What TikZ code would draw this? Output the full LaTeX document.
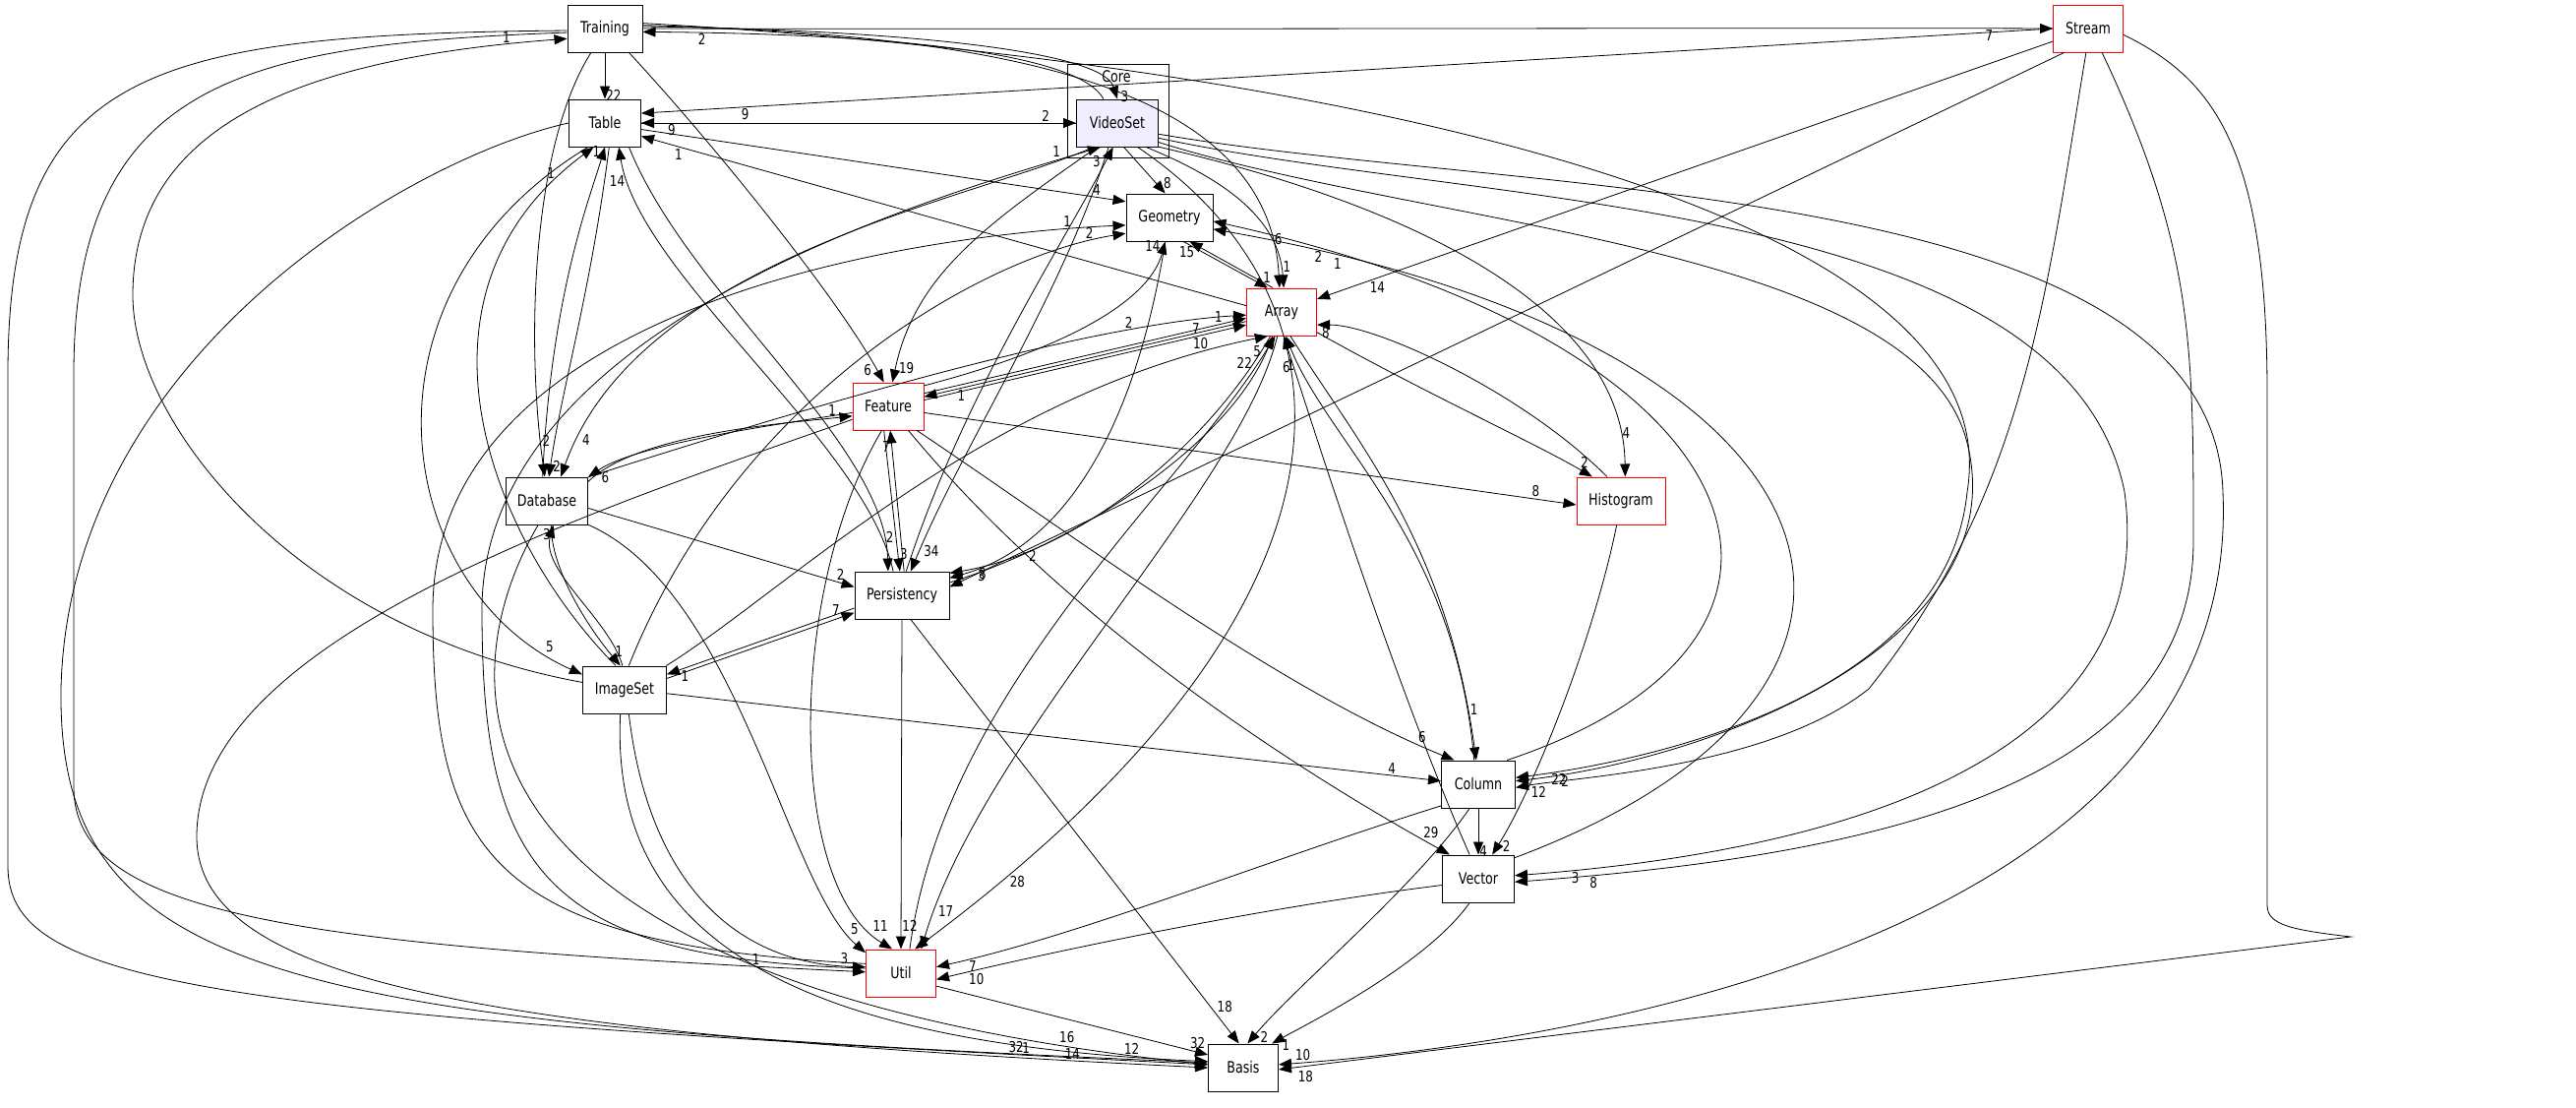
\documentclass[tikz,border=0pt]{standalone}
\usepackage{fontspec}
\usetikzlibrary{arrows.meta}
\newfontfamily\dvs{DejaVu Sans}[FakeStretch=0.79]
\newcommand\gnfont{\dvs\fontsize{16}{18}\selectfont}
\newcommand\glfont{\dvs\fontsize{15}{16}\selectfont}
\definecolor{lav}{RGB}{238,238,255}
\tikzset{
 dnode/.style={draw, line width=1pt, minimum height=48pt, inner sep=0pt, font=\gnfont},
 rnode/.style={dnode, draw=red},
 dep/.style={line width=0.8pt, -{Triangle[length=13pt,width=10pt]}},
 hl/.style={font=\glfont, inner sep=1pt, pos=0.93, auto},
}
\begin{document}
\begin{tikzpicture}[x=1pt,y=-1pt]
\fill[white] (0,0) rectangle (2619,1125);
\useasboundingbox (0,0) rectangle (2619,1125);
% cluster
\node[draw, line width=1pt, minimum width=103pt, minimum height=95pt, inner sep=0pt] (core) at (1136.5,112.5) {};
\node[font=\gnfont, inner sep=0pt] (corelbl) at (1135,78) {Core};
% nodes
\node[dnode, minimum width=76pt] (T) at (615,29) {Training};
\node[dnode, minimum width=73pt] (Tb) at (615,125) {Table};
\node[dnode, minimum width=83pt, fill=lav] (V) at (1136,125) {VideoSet};
\node[dnode, minimum width=88pt] (G) at (1189,221) {Geometry};
\node[rnode, minimum width=71pt] (A) at (1303,317) {Array};
\node[rnode, minimum width=72pt] (F) at (903,413) {Feature};
\node[dnode, minimum width=83pt] (D) at (556,509) {Database};
\node[rnode, minimum width=90pt] (H) at (1648,509) {Histogram};
\node[dnode, minimum width=96pt] (P) at (917,605) {Persistency};
\node[dnode, minimum width=85pt] (I) at (635,701) {ImageSet};
\node[dnode, minimum width=75pt] (C) at (1503,797) {Column};
\node[dnode, minimum width=73pt] (Ve) at (1503,893) {Vector};
\node[rnode, minimum width=71pt] (U) at (916,989) {Util};
\node[dnode, minimum width=71pt] (B) at (1264,1085) {Basis};
\node[rnode, minimum width=71pt] (S) at (2123,29) {Stream};
% Training
\draw[dep] (T.south) -- node[hl](l1){22} (Tb.north);
\draw[dep] (T.183) .. controls (150,35) and (8,70) .. (8,380) -- (8,880) .. controls (8,1000) and (200,1030) .. node[hl](l2){32} (B.175);
\draw[dep] (T.186) .. controls (250,45) and (75,80) .. (75,380) -- (75,800) .. controls (75,930) and (300,960) .. node[hl](l3){1} (U.178);
\draw[dep] (I.170) .. controls (300,640) and (135,430) .. (135,300) .. controls (135,130) and (300,60) .. node[hl](l4){1} (T.195);
\draw[dep] (T.240) .. controls (540,150) and (535,350) .. node[hl](l5){2} (D.95);
\draw[dep] (T.-45) .. controls (720,140) and (850,300) .. node[hl,swap](l6){6} (F.100);
\draw[dep] (T.east) .. controls (1200,30) and (1800,28) .. node[hl,swap](l7){7} (S.west);
\draw[dep] (V.120) .. controls (1100,60) and (950,35) .. node[hl](l8){2} (T.-5);
\draw[dep] (T.3) .. controls (900,30) and (1120,50) .. node[font=\glfont, inner sep=1pt, pos=0.985, right=3pt](l9){3} (V.north);
\draw[dep] (T.5) .. controls (1000,35) and (1290,80) .. node[hl](l10){6} (A.95);
\draw[dep] (T.8) .. controls (1300,60) and (2050,200) .. (2000,500) .. controls (1980,700) and (1700,770) .. node[hl](l11){22} (C.10);
% Stream
\draw[dep] (S.west) -- node[hl](l12){9} (Tb.15);
\draw[dep] (S.200) -- node[hl](l13){14} (A.20);
\draw[dep] (S.225) -- node[hl](l14){2} (P.10);
\draw[dep] (S.-95) .. controls (2080,300) and (2060,500) .. (1900,700) .. controls (1800,780) and (1600,790) .. node[hl](l15){12} (C.-5);
\draw[dep] (S.-60) .. controls (2230,250) and (2230,350) .. (2230,550) .. controls (2230,800) and (1900,870) .. node[hl](l16){8} (Ve.-5);
\draw[dep] (S.-10) .. controls (2250,80) and (2305,150) .. (2305,400) -- (2305,920) .. controls (2305,940) and (2330,945) .. (2390,952) -- node[font=\glfont, inner sep=1pt, pos=0.985, below right=2pt](l17){18} (B.-3);
% VideoSet
\draw[dep] (Tb.east) -- node[hl](l18){2} (V.west);
\draw[dep] (V.west) -- node[hl](l19){9} (Tb.east);
\draw[dep] (V.-75) -- node[hl](l20){8} (G.100);
\draw[dep] (V.-135) .. controls (1000,200) and (650,260) .. node[hl](l21){4} (D.60);
\draw[dep] (V.-130) .. controls (1000,230) and (930,280) .. node[hl](l22){19} (F.80);
\draw[dep] (V.-110) .. controls (1080,300) and (980,450) .. node[hl](l23){34} (P.70);
\draw[dep] (V.-40) .. controls (1240,180) and (1300,220) .. node[hl](l24){1} (A.85);
\draw[dep] (V.-30) .. controls (1400,200) and (1650,300) .. node[hl](l25){4} (H.80);
\draw[dep] (V.-25) .. controls (1450,230) and (1950,250) .. (2000,450) .. controls (2050,650) and (1750,770) .. node[hl](l26){2} (C.5);
\draw[dep] (V.-20) .. controls (1500,210) and (2100,200) .. (2160,500) .. controls (2200,800) and (1800,870) .. node[hl](l27){3} (Ve.5);
\draw[dep] (V.-15) .. controls (1550,200) and (2250,180) .. (2260,500) .. controls (2280,950) and (1600,1060) .. node[font=\glfont, inner sep=1pt, pos=0.985, above right=2pt](l28){10} (B.5);
\draw[dep] (V.-50) .. controls (1380,300) and (1420,600) .. node[hl](l29){28} (U.60);
\draw[dep] (U.172) .. controls (550,975) and (490,880) .. (490,620) .. controls (490,330) and (950,200) .. node[hl](l30){1} (V.-125);
\draw[dep] (P.80) .. controls (980,400) and (1080,250) .. node[hl](l31){3} (V.-100);
% Geometry
\draw[dep] (Tb.-10) -- node[hl](l32){4} (G.160);
\draw[dep] (U.165) .. controls (500,960) and (440,870) .. (440,620) .. controls (440,320) and (900,240) .. node[hl](l33){1} (G.190);
\draw[dep] (I.80) .. controls (750,400) and (1000,260) .. node[hl](l34){2} (G.200);
\draw[dep] (F.30) .. controls (1100,350) and (1170,300) .. node[hl](l35){14} (G.-100);
\draw[dep] (G.-60) -- node[hl](l36){1} (A.120);
\draw[dep] (A.110) -- node[hl](l37){15} (G.-50);
\draw[dep] (G.-100) .. controls (1160,400) and (1100,550) .. node[hl](l38){3} (P.20);
\draw[dep] (C.40) .. controls (1900,650) and (1800,350) .. node[hl](l39){2} (G.-5);
\draw[dep] (Ve.30) .. controls (2000,700) and (1900,350) .. node[hl](l40){1} (G.-15);
% Array
\draw[dep] (A.170) -- node[hl](l41){1} (Tb.-20);
\draw[dep] (F.20) -- node[hl](l42){1} (A.190);
\draw[dep] (A.195) -- node[hl,pos=0.9](l43){1} (F.15);
\draw[dep] (F.10) -- node[hl,pos=0.86](l44){7} (A.200);
\draw[dep] (D.30) .. controls (800,420) and (1100,330) .. node[hl,pos=0.8](l45){2} (A.185);
\draw[dep] (P.15) .. controls (1100,550) and (1250,450) .. node[hl](l46){5} (A.-110);
\draw[dep] (A.-115) .. controls (1230,450) and (1100,560) .. node[hl](l47){8} (P.25);
\draw[dep] (U.70) .. controls (960,700) and (1200,500) .. node[hl](l48){22} (A.-105);
\draw[dep] (A.-100) .. controls (1260,500) and (1000,750) .. node[hl](l49){17} (U.50);
\draw[dep] (C.100) .. controls (1480,550) and (1350,450) .. node[hl](l50){1} (A.-80);
\draw[dep] (A.-70) .. controls (1380,450) and (1470,550) .. node[hl](l51){1} (C.95);
\draw[dep] (Ve.110) .. controls (1420,700) and (1340,450) .. node[hl](l52){6} (A.-85);
\draw[dep] (H.120) .. controls (1550,400) and (1400,330) .. node[hl](l53){8} (A.-20);
\draw[dep] (A.-30) .. controls (1450,400) and (1560,450) .. node[hl](l54){2} (H.140);
\draw[dep] (I.30) .. controls (800,600) and (1000,400) .. node[hl](l55){10} (A.-120);
% Feature
\draw[dep] (F.190) .. controls (800,430) and (650,450) .. node[hl](l56){6} (D.30);
\draw[dep] (D.25) .. controls (650,440) and (800,430) .. node[hl](l57){1} (F.195);
\draw[dep] (F.-100) -- node[hl](l58){3} (P.95);
\draw[dep] (P.85) -- node[hl](l59){7} (F.-85);
\draw[dep] (F.-10) -- node[hl](l60){8} (H.185);
\draw[dep] (F.-40) .. controls (1100,550) and (1300,700) .. node[hl](l61){6} (C.135);
\draw[dep] (F.-50) .. controls (1100,650) and (1350,800) .. node[hl](l62){29} (Ve.140);
\draw[dep] (F.-105) .. controls (800,600) and (800,900) .. node[hl](l63){11} (U.110);
\draw[dep] (F.200) .. controls (600,520) and (200,650) .. (200,850) .. controls (200,1000) and (500,1050) .. node[hl](l64){14} (B.180);
% Database
\draw[dep] (Tb.-80) .. controls (600,300) and (570,400) .. node[hl](l65){2} (D.85);
\draw[dep] (D.-10) -- node[hl](l66){2} (P.170);
\draw[dep] (D.-80) .. controls (560,580) and (600,640) .. node[hl](l67){1} (I.100);
\draw[dep] (I.95) .. controls (620,630) and (550,580) .. node[hl](l68){3} (D.-75);
\draw[dep] (D.-30) .. controls (750,600) and (800,900) .. node[hl](l69){5} (U.150);
\draw[dep] (D.-110) .. controls (450,700) and (450,1000) .. node[hl](l70){16} (B.175);
\draw[dep] (D.100) .. controls (560,300) and (600,200) .. node[hl](l71){1} (Tb.-90);
% Persistency
\draw[dep] (P.-90) -- node[hl](l72){12} (U.90);
\draw[dep] (P.-70) -- node[hl](l73){18} (B.100);
\draw[dep] (Tb.-45) .. controls (700,300) and (900,450) .. node[hl](l74){2} (P.120);
\draw[dep] (P.110) .. controls (880,450) and (650,280) .. node[hl](l75){14} (Tb.-60);
\draw[dep] (I.15) -- node[hl](l76){7} (P.-160);
\draw[dep] (P.-165) -- node[hl](l77){1} (I.20);
% Table
\draw[dep] (Tb.west) .. controls (420,160) and (70,360) .. (62,700) .. controls (58,1000) and (300,1040) .. node[hl](l90){1} (B.172);
% ImageSet
\draw[dep] (I.110) .. controls (500,550) and (400,300) .. node[hl](l78){1} (Tb.-115);
\draw[dep] (Tb.-125) .. controls (350,300) and (400,600) .. node[hl](l79){5} (I.160);
\draw[dep] (I.-5) -- node[hl](l80){4} (C.175);
\draw[dep] (I.-80) .. controls (660,900) and (750,980) .. node[hl](l81){3} (U.170);
\draw[dep] (I.-100) .. controls (620,950) and (800,1060) .. node[hl](l82){12} (B.170);
% Column
\draw[dep] (C.south) -- node[hl](l83){4} (Ve.north);
\draw[dep] (C.-150) .. controls (1300,870) and (1100,950) .. node[hl](l84){7} (U.10);
\draw[dep] (C.-110) .. controls (1440,900) and (1320,1000) .. node[hl](l85){2} (B.80);
% Vector
\draw[dep] (Ve.-170) .. controls (1300,920) and (1100,960) .. node[hl](l86){10} (U.-10);
\draw[dep] (Ve.-110) .. controls (1450,980) and (1330,1040) .. node[hl](l87){1} (B.40);
% Util
\draw[dep] (U.-20) -- node[hl](l88){32} (B.160);
% Histogram
\draw[dep] (H.-100) .. controls (1620,650) and (1560,800) .. node[hl](l89){2} (Ve.60);
\end{tikzpicture}
\end{document}
